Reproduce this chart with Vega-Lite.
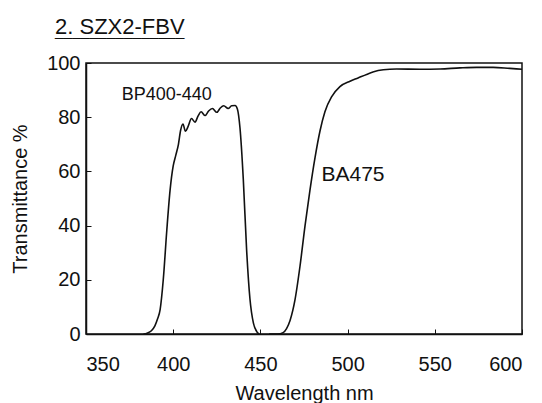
{
  "$schema": "https://vega.github.io/schema/vega-lite/v6.json",
  "width": 436,
  "height": 271,
  "autosize": {"type": "none"},
  "padding": {"left": 86, "top": 63, "right": 20, "bottom": 69},
  "background": "white",
  "title": {
    "text": "2. SZX2-FBV",
    "subtitle": "_______________",
    "anchor": "start",
    "frame": "group",
    "dx": -31,
    "offset": 13,
    "font": "Liberation Sans",
    "fontSize": 22,
    "fontWeight": "normal",
    "color": "#111",
    "subtitleFont": "Liberation Sans",
    "subtitleFontSize": 15.5,
    "subtitleColor": "#111",
    "subtitlePadding": -15
  },
  "config": {
    "view": {"stroke": "#111", "strokeWidth": 1.5},
    "axis": {
      "labelFont": "Liberation Sans",
      "titleFont": "Liberation Sans",
      "labelFontSize": 20,
      "titleFontSize": 20,
      "labelColor": "#111",
      "titleColor": "#111",
      "titleFontWeight": "normal",
      "domainColor": "#111",
      "domainWidth": 1.5,
      "tickColor": "#111",
      "tickWidth": 1,
      "grid": false
    }
  },
  "datasets": {
    "curves": [
      {"series": "BP400-440", "nm": 383, "T": 0},
      {"series": "BP400-440", "nm": 385, "T": 0.3},
      {"series": "BP400-440", "nm": 387.5, "T": 1.2},
      {"series": "BP400-440", "nm": 389.5, "T": 3},
      {"series": "BP400-440", "nm": 391, "T": 5.5},
      {"series": "BP400-440", "nm": 392.5, "T": 9},
      {"series": "BP400-440", "nm": 394.3, "T": 20},
      {"series": "BP400-440", "nm": 396.3, "T": 38},
      {"series": "BP400-440", "nm": 398.2, "T": 53},
      {"series": "BP400-440", "nm": 400, "T": 62},
      {"series": "BP400-440", "nm": 401.5, "T": 66},
      {"series": "BP400-440", "nm": 403, "T": 70},
      {"series": "BP400-440", "nm": 404.2, "T": 75},
      {"series": "BP400-440", "nm": 405.6, "T": 77.5},
      {"series": "BP400-440", "nm": 407, "T": 74.8},
      {"series": "BP400-440", "nm": 408.5, "T": 76.5},
      {"series": "BP400-440", "nm": 410.5, "T": 79.5},
      {"series": "BP400-440", "nm": 412.5, "T": 78.2},
      {"series": "BP400-440", "nm": 414.3, "T": 80.5},
      {"series": "BP400-440", "nm": 416, "T": 82},
      {"series": "BP400-440", "nm": 418.3, "T": 80.6},
      {"series": "BP400-440", "nm": 420.3, "T": 82.3},
      {"series": "BP400-440", "nm": 422.5, "T": 83.2},
      {"series": "BP400-440", "nm": 425, "T": 81.8},
      {"series": "BP400-440", "nm": 427, "T": 83.4},
      {"series": "BP400-440", "nm": 429, "T": 84.2},
      {"series": "BP400-440", "nm": 431.5, "T": 83.2},
      {"series": "BP400-440", "nm": 433.5, "T": 84.2},
      {"series": "BP400-440", "nm": 435.5, "T": 84.3},
      {"series": "BP400-440", "nm": 436.8, "T": 83},
      {"series": "BP400-440", "nm": 438.3, "T": 76},
      {"series": "BP400-440", "nm": 440.2, "T": 57},
      {"series": "BP400-440", "nm": 442.1, "T": 31},
      {"series": "BP400-440", "nm": 444, "T": 13},
      {"series": "BP400-440", "nm": 446, "T": 4},
      {"series": "BP400-440", "nm": 448, "T": 0.8},
      {"series": "BP400-440", "nm": 449.3, "T": 0},
      {"series": "BA475", "nm": 455, "T": 0},
      {"series": "BA475", "nm": 460, "T": 0},
      {"series": "BA475", "nm": 463, "T": 0.5},
      {"series": "BA475", "nm": 465, "T": 2},
      {"series": "BA475", "nm": 467, "T": 5},
      {"series": "BA475", "nm": 469.8, "T": 12.5},
      {"series": "BA475", "nm": 472.7, "T": 25},
      {"series": "BA475", "nm": 475.6, "T": 40},
      {"series": "BA475", "nm": 478.4, "T": 53},
      {"series": "BA475", "nm": 481.3, "T": 65},
      {"series": "BA475", "nm": 484.2, "T": 75},
      {"series": "BA475", "nm": 487, "T": 82},
      {"series": "BA475", "nm": 490.9, "T": 87.6},
      {"series": "BA475", "nm": 495.6, "T": 91.3},
      {"series": "BA475", "nm": 501.4, "T": 93.3},
      {"series": "BA475", "nm": 506, "T": 94.5},
      {"series": "BA475", "nm": 510.9, "T": 95.8},
      {"series": "BA475", "nm": 515, "T": 96.8},
      {"series": "BA475", "nm": 520.5, "T": 97.5},
      {"series": "BA475", "nm": 528, "T": 97.8},
      {"series": "BA475", "nm": 541.5, "T": 97.7},
      {"series": "BA475", "nm": 553, "T": 97.8},
      {"series": "BA475", "nm": 564.4, "T": 98.2},
      {"series": "BA475", "nm": 574, "T": 98.4},
      {"series": "BA475", "nm": 583.5, "T": 98.4},
      {"series": "BA475", "nm": 593, "T": 98},
      {"series": "BA475", "nm": 600, "T": 97.7}
    ]
  },
  "layer": [
    {
      "data": {"name": "curves"},
      "mark": {"type": "line", "color": "#111", "strokeWidth": 1.6, "interpolate": "monotone", "clip": true},
      "encoding": {
        "x": {
          "field": "nm", "type": "quantitative",
          "scale": {"domain": [350, 600], "nice": false, "zero": false},
          "axis": {
            "title": "Wavelength nm",
            "values": [350, 400, 450, 500, 550, 600],
            "tickSize": -5,
            "labelPadding": 25,
            "titlePadding": 9
          }
        },
        "y": {
          "field": "T", "type": "quantitative",
          "scale": {"domain": [0, 100], "nice": false},
          "axis": {
            "title": "Transmittance %",
            "values": [0, 20, 40, 60, 80, 100],
            "tickSize": -5,
            "labelPadding": 11,
            "titlePadding": 16
          }
        },
        "detail": {"field": "series"}
      }
    },
    {
      "data": {"values": [{"label": "BP400-440", "nm": 370.5, "T": 88.2}]},
      "mark": {"type": "text", "align": "left", "baseline": "middle", "font": "Liberation Sans", "fontSize": 18, "color": "#111"},
      "encoding": {
        "x": {"field": "nm", "type": "quantitative"},
        "y": {"field": "T", "type": "quantitative"},
        "text": {"field": "label"}
      }
    },
    {
      "data": {"values": [{"label": "BA475", "nm": 485, "T": 58.5}]},
      "mark": {"type": "text", "align": "left", "baseline": "middle", "font": "Liberation Sans", "fontSize": 21, "color": "#111"},
      "encoding": {
        "x": {"field": "nm", "type": "quantitative"},
        "y": {"field": "T", "type": "quantitative"},
        "text": {"field": "label"}
      }
    }
  ]
}
